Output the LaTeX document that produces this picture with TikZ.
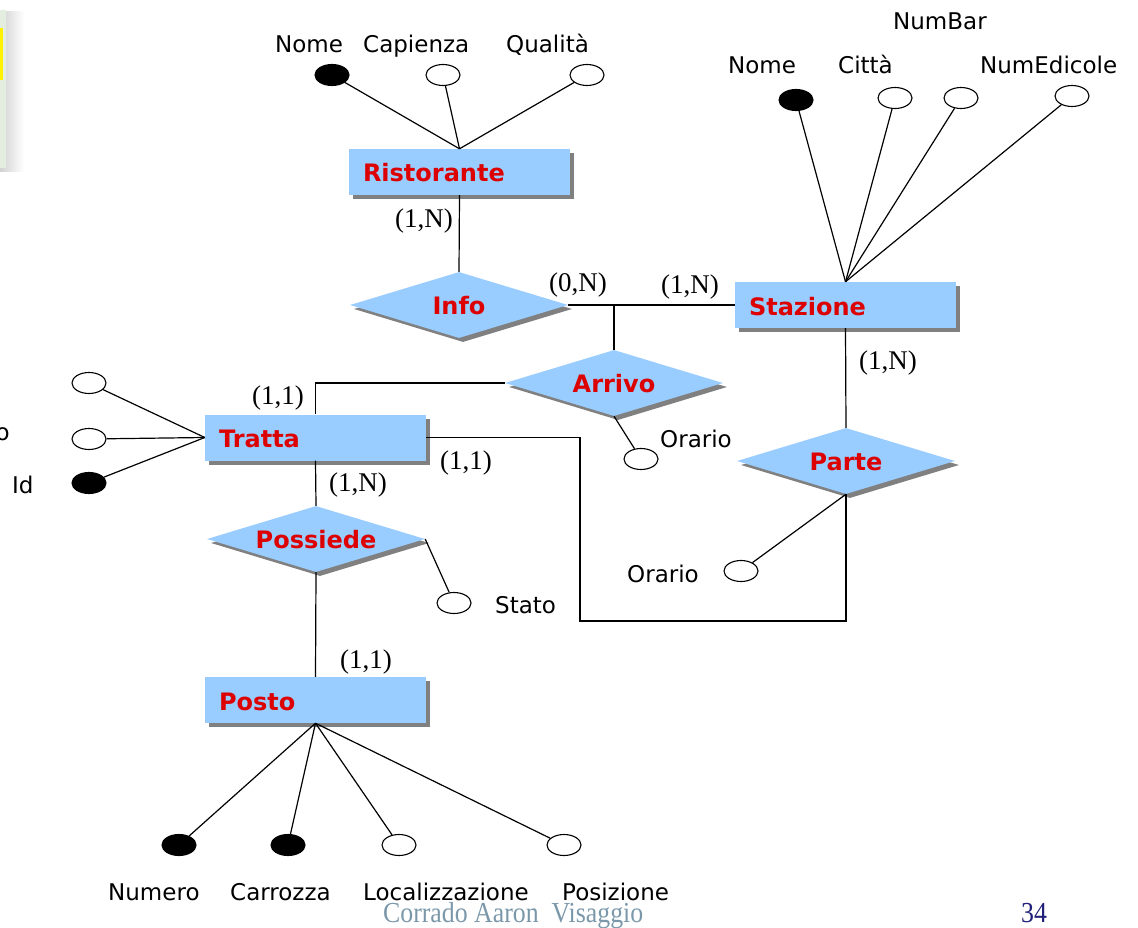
\documentclass[tikz,border=0pt]{standalone}
\usepackage{fontspec}
\setmainfont{DejaVu Sans}
\newfontfamily\cardfont{Liberation Serif}
\usetikzlibrary{shapes.geometric,shadows}
\definecolor{entblue}{HTML}{99CCFF}
\definecolor{namered}{HTML}{DD0000}
\definecolor{shadowgray}{HTML}{808080}
\definecolor{footgray}{HTML}{7B98AA}
\definecolor{pagenavy}{HTML}{1F1F7A}
\definecolor{panelgreen}{HTML}{E4EEE0}

\begin{document}
\begin{tikzpicture}[x=1pt,y=-1pt,
  shadowed/.style={drop shadow={shadow xshift=4pt,shadow yshift=-4pt,opacity=1,fill=shadowgray}},
  entity/.style={rectangle,fill=entblue,shadowed,minimum width=221pt,minimum height=46pt,
    inner sep=0pt,text width=193pt,align=left,text=namered,
    font=\fontsize{24}{28}\selectfont\bfseries,text height=20pt,text depth=0pt},
  relation/.style={diamond,fill=entblue,shadowed,minimum width=218pt,minimum height=66pt,
    inner sep=0pt,aspect=3.3,text=namered,
    font=\fontsize{24}{28}\selectfont\bfseries,text height=19pt,text depth=0pt},
  attr/.style={ellipse,draw,line width=1.1pt,minimum width=34pt,minimum height=21pt,
    inner sep=0pt,fill=white},
  keyattr/.style={attr,fill=black},
  attrname/.style={anchor=base west,inner sep=0pt,font=\fontsize{23}{27}\selectfont},
  card/.style={inner sep=0pt,font=\cardfont\fontsize{27}{30}\selectfont},
  link/.style={line width=1.2pt}]

\useasboundingbox (0,0) rectangle (1138,928);

% edge of the neighbouring panel at the top left
\shade[left color=black!18,right color=white] (0,12) rectangle (24,172);
\fill[panelgreen] (0,10) rectangle (6,168);
\fill[yellow] (0,28) rectangle (3,80);

% entities
\node[entity] (rist) at (459.5,172) {Ristorante};
\node[entity] (staz) at (845.5,305) {Stazione};
\node[entity] (tratta) at (315.5,437.5) {Tratta};
\node[entity] (posto) at (315.5,700) {Posto};

% relationships
\node[relation] (info) at (459,305) {Info};
\node[relation] (arrivo) at (614,383) {Arrivo};
\node[relation] (parte) at (846,461) {Parte};
\node[relation] (possiede) at (316,539) {Possiede};

% attributes of Ristorante
\node[keyattr] (rnome) at (332,75) {};
\node[attr] (rcap) at (443,75) {};
\node[attr] (rqual) at (587,75) {};
\node[attrname] (trnome) at (275,53) {Nome};
\node[attrname] (trcap) at (363,53) {Capienza};
\node[attrname] (trqual) at (506,53) {Qualità};
\foreach \a in {rnome,rcap,rqual} \draw[link] (\a) -- (rist.north);

% attributes of Stazione
\node[keyattr] (snome) at (796,100) {};
\node[attr] (scitta) at (895,98) {};
\node[attr] (sbar) at (961,98) {};
\node[attr] (sedic) at (1072,96) {};
\node[attrname] (tsbar) at (893,30) {NumBar};
\node[attrname] (tsnome) at (728,74) {Nome};
\node[attrname] (tscitta) at (838,74) {Città};
\node[attrname] (tsedic) at (980,74) {NumEdicole};
\foreach \a in {snome,scitta,sbar,sedic} \draw[link] (\a) -- (staz.north);

% attributes of Tratta
\node[attr] (ta1) at (89,383) {};
\node[attr] (ta2) at (89,439) {};
\node[keyattr] (tid) at (89,483) {};
\node[attrname,anchor=base east] (tta2) at (10,440) {o};
\node[attrname] (ttid) at (12,493) {Id};
\foreach \a in {ta1,ta2,tid} \draw[link] (\a) -- (tratta.west);

% attributes of Posto
\node[keyattr] (pnum) at (179,845) {};
\node[keyattr] (pcarr) at (288,845) {};
\node[attr] (ploc) at (399,845) {};
\node[attr] (ppos) at (564,845) {};
\node[attrname] (tpnum) at (108,900) {Numero};
\node[attrname] (tpcarr) at (230,900) {Carrozza};
\node[attrname] (tploc) at (363,900) {Localizzazione};
\node[attrname] (tppos) at (562,900) {Posizione};
\foreach \a in {pnum,pcarr,ploc,ppos} \draw[link] (\a) -- (posto.south);

% attributes of the relationships
\node[attr] (aorario) at (641,459) {};
\node[attrname] (taorario) at (660,447) {Orario};
\draw[link] (arrivo.south) -- (aorario);
\node[attr] (porario) at (741,571) {};
\node[attrname] (tporario) at (627,582) {Orario};
\draw[link] (parte.south) -- (porario);
\node[attr] (stato) at (454,603) {};
\node[attrname] (tstato) at (495,613) {Stato};
\draw[link] (possiede.east) -- (stato);

% relationship links
\coordinate (bend) at (580,621);
\draw[link] (rist.south) -- (info.north);
\draw[link] (info.east) -- (info.east -| staz.west);
\draw[link] (arrivo.north) -- (arrivo.north |- info.east);
\draw[link] (arrivo.west) -| (tratta.north);
\draw[link] (staz.south) -- (parte.north);
\draw[link] (tratta.east) -| (bend) -| (parte.south);
\draw[link] (tratta.south) -- (possiede.north);
\draw[link] (possiede.south) -- (posto.north);

% cardinalities
\node[card] (c1) at (424,221) {(1,N)};
\node[card] (c2) at (578,285) {(0,N)};
\node[card] (c3) at (690,287) {(1,N)};
\node[card] (c4) at (278,398) {(1,1)};
\node[card] (c5) at (888,363) {(1,N)};
\node[card] (c6) at (466,463) {(1,1)};
\node[card] (c7) at (358,485) {(1,N)};
\node[card] (c8) at (366,662) {(1,1)};

% footer
\node[anchor=base west,inner sep=0pt,xscale=0.89,text=footgray,
  font=\cardfont\fontsize{29}{32}\selectfont] (author) at (383,922) {Corrado Aaron~~Visaggio};
\node[anchor=base west,inner sep=0pt,xscale=0.89,text=pagenavy,
  font=\cardfont\fontsize{29}{32}\selectfont] (pagenum) at (1021,922) {34};
\end{tikzpicture}
\end{document}
